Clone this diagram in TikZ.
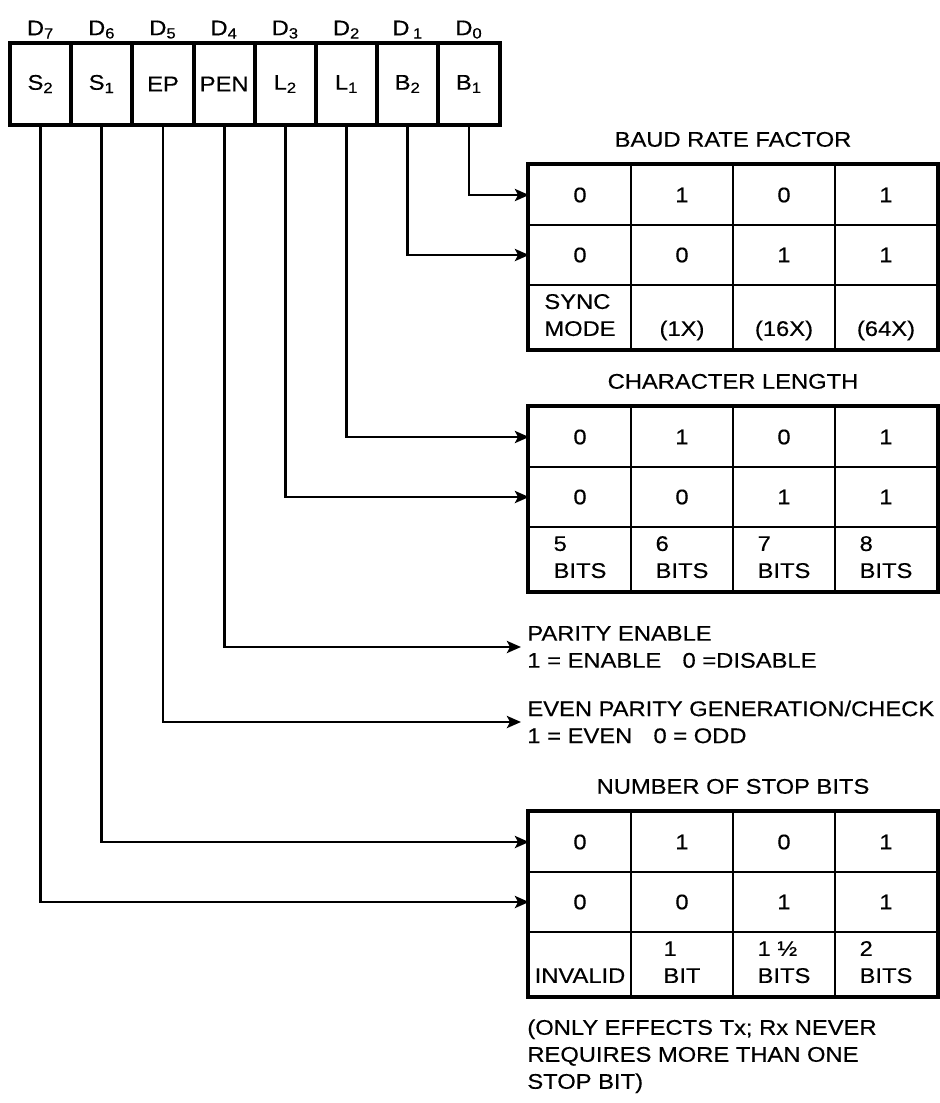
\documentclass[tikz,border=0pt]{standalone}
\usepackage{fontspec}
\setmainfont{Liberation Sans}[FakeStretch=1.12, FakeBold=0.4]
\usetikzlibrary{arrows.meta,positioning,matrix}

\newcommand{\twolines}[2]{\begin{tabular}{@{}l@{}}#1\\#2\end{tabular}}

\tikzset{
  reg/.style={draw, line width=2pt, minimum width=30.6pt, minimum height=41pt, inner sep=0pt, outer sep=0pt},
  bitname/.style={inner sep=1pt},
  cell/.style={draw, line width=1pt, minimum width=51pt, minimum height=30pt, inner sep=0.5pt, outer sep=0pt},
  bittable/.style={matrix of nodes, nodes={cell}, inner sep=0pt, outer sep=0pt,
    column sep=-1pt, row sep=-1pt, anchor=north west,
    row 3/.style={nodes={minimum height=32pt}}},
  frame/.style={line width=2pt},
  conn/.style={line width=1.4pt},
  elbow/.style={to path={|- (\tikztotarget)}},
}

\begin{document}
\begin{tikzpicture}[x=0.5pt, y=-0.5pt, >={Stealth[length=7pt,width=6pt,inset=1.5pt]}, font=\fontsize{10.6}{13.5}\selectfont]
  \useasboundingbox (0,0) rectangle (940,1103);

  % mode instruction register
  \node[reg] (s2)  at (40.6,84)      {S\textsubscript{2}};
  \node[reg] (s1)  [right=0pt of s2]  {S\textsubscript{1}};
  \node[reg] (ep)  [right=0pt of s1]  {EP};
  \node[reg] (pen) [right=0pt of ep]  {PEN};
  \node[reg] (l2)  [right=0pt of pen] {L\textsubscript{2}};
  \node[reg] (l1)  [right=0pt of l2]  {L\textsubscript{1}};
  \node[reg] (b2)  [right=0pt of l1]  {B\textsubscript{2}};
  \node[reg] (b1)  [right=0pt of b2]  {B\textsubscript{1}};

  \node[bitname] (d7) [above=1pt of s2]  {D\textsubscript{7}};
  \node[bitname] (d6) [above=1pt of s1]  {D\textsubscript{6}};
  \node[bitname] (d5) [above=1pt of ep]  {D\textsubscript{5}};
  \node[bitname] (d4) [above=1pt of pen] {D\textsubscript{4}};
  \node[bitname] (d3) [above=1pt of l2]  {D\textsubscript{3}};
  \node[bitname] (d2) [above=1pt of l1]  {D\textsubscript{2}};
  \node[bitname] (d1) [above=1pt of b2]  {D\,\textsubscript{1}};
  \node[bitname] (d0) [above=1pt of b1]  {D\textsubscript{0}};

  % baud rate factor
  \matrix[bittable] (baud) at (528,164) {
    0 & 1 & 0 & 1 \\
    0 & 0 & 1 & 1 \\
    \twolines{SYNC}{MODE} & \twolines{\strut}{(1X)} & \twolines{\strut}{(16X)} & \twolines{\strut}{(64X)} \\
  };
  \draw[frame] (baud.north west) rectangle (baud.south east);
  \node (baudtitle) [above=5pt of baud] {BAUD RATE FACTOR};

  % character length
  \matrix[bittable] (charlen) at (528,406) {
    0 & 1 & 0 & 1 \\
    0 & 0 & 1 & 1 \\
    \twolines{5}{BITS} & \twolines{6}{BITS} & \twolines{7}{BITS} & \twolines{8}{BITS} \\
  };
  \draw[frame] (charlen.north west) rectangle (charlen.south east);
  \node (chartitle) [above=5pt of charlen] {CHARACTER LENGTH};

  % parity
  \node[align=left, anchor=west, inner sep=3pt] (parity)  at (521,647) {PARITY ENABLE\\1 = ENABLE\quad 0 =DISABLE};
  \node[align=left, anchor=west, inner sep=3pt] (evenpar) at (521,722) {EVEN PARITY GENERATION/CHECK\\1 = EVEN\quad 0 = ODD};

  % stop bits
  \matrix[bittable] (stop) at (528,811) {
    0 & 1 & 0 & 1 \\
    0 & 0 & 1 & 1 \\
    \twolines{\strut}{INVALID} & \twolines{1}{BIT} & \twolines{1 ½}{BITS} & \twolines{2}{BITS} \\
  };
  \draw[frame] (stop.north west) rectangle (stop.south east);
  \node (stoptitle) [above=5pt of stop] {NUMBER OF STOP BITS};

  \node[align=left, anchor=north west, inner sep=3pt] (note) at (521,1013)
    {(ONLY EFFECTS Tx; Rx NEVER\\REQUIRES MORE THAN ONE\\STOP BIT)};

  \path[->, conn]
  (b1)  edge[elbow] (baud-1-1)
  (b2)  edge[elbow] (baud-2-1)
  (l1)  edge[elbow] (charlen-1-1)
  (l2)  edge[elbow] (charlen-2-1)
  (pen) edge[elbow] (parity)
  (ep)  edge[elbow] (evenpar)
  (s1)  edge[elbow] (stop-1-1)
  (s2)  edge[elbow] (stop-2-1)
;

\end{tikzpicture}
\end{document}
